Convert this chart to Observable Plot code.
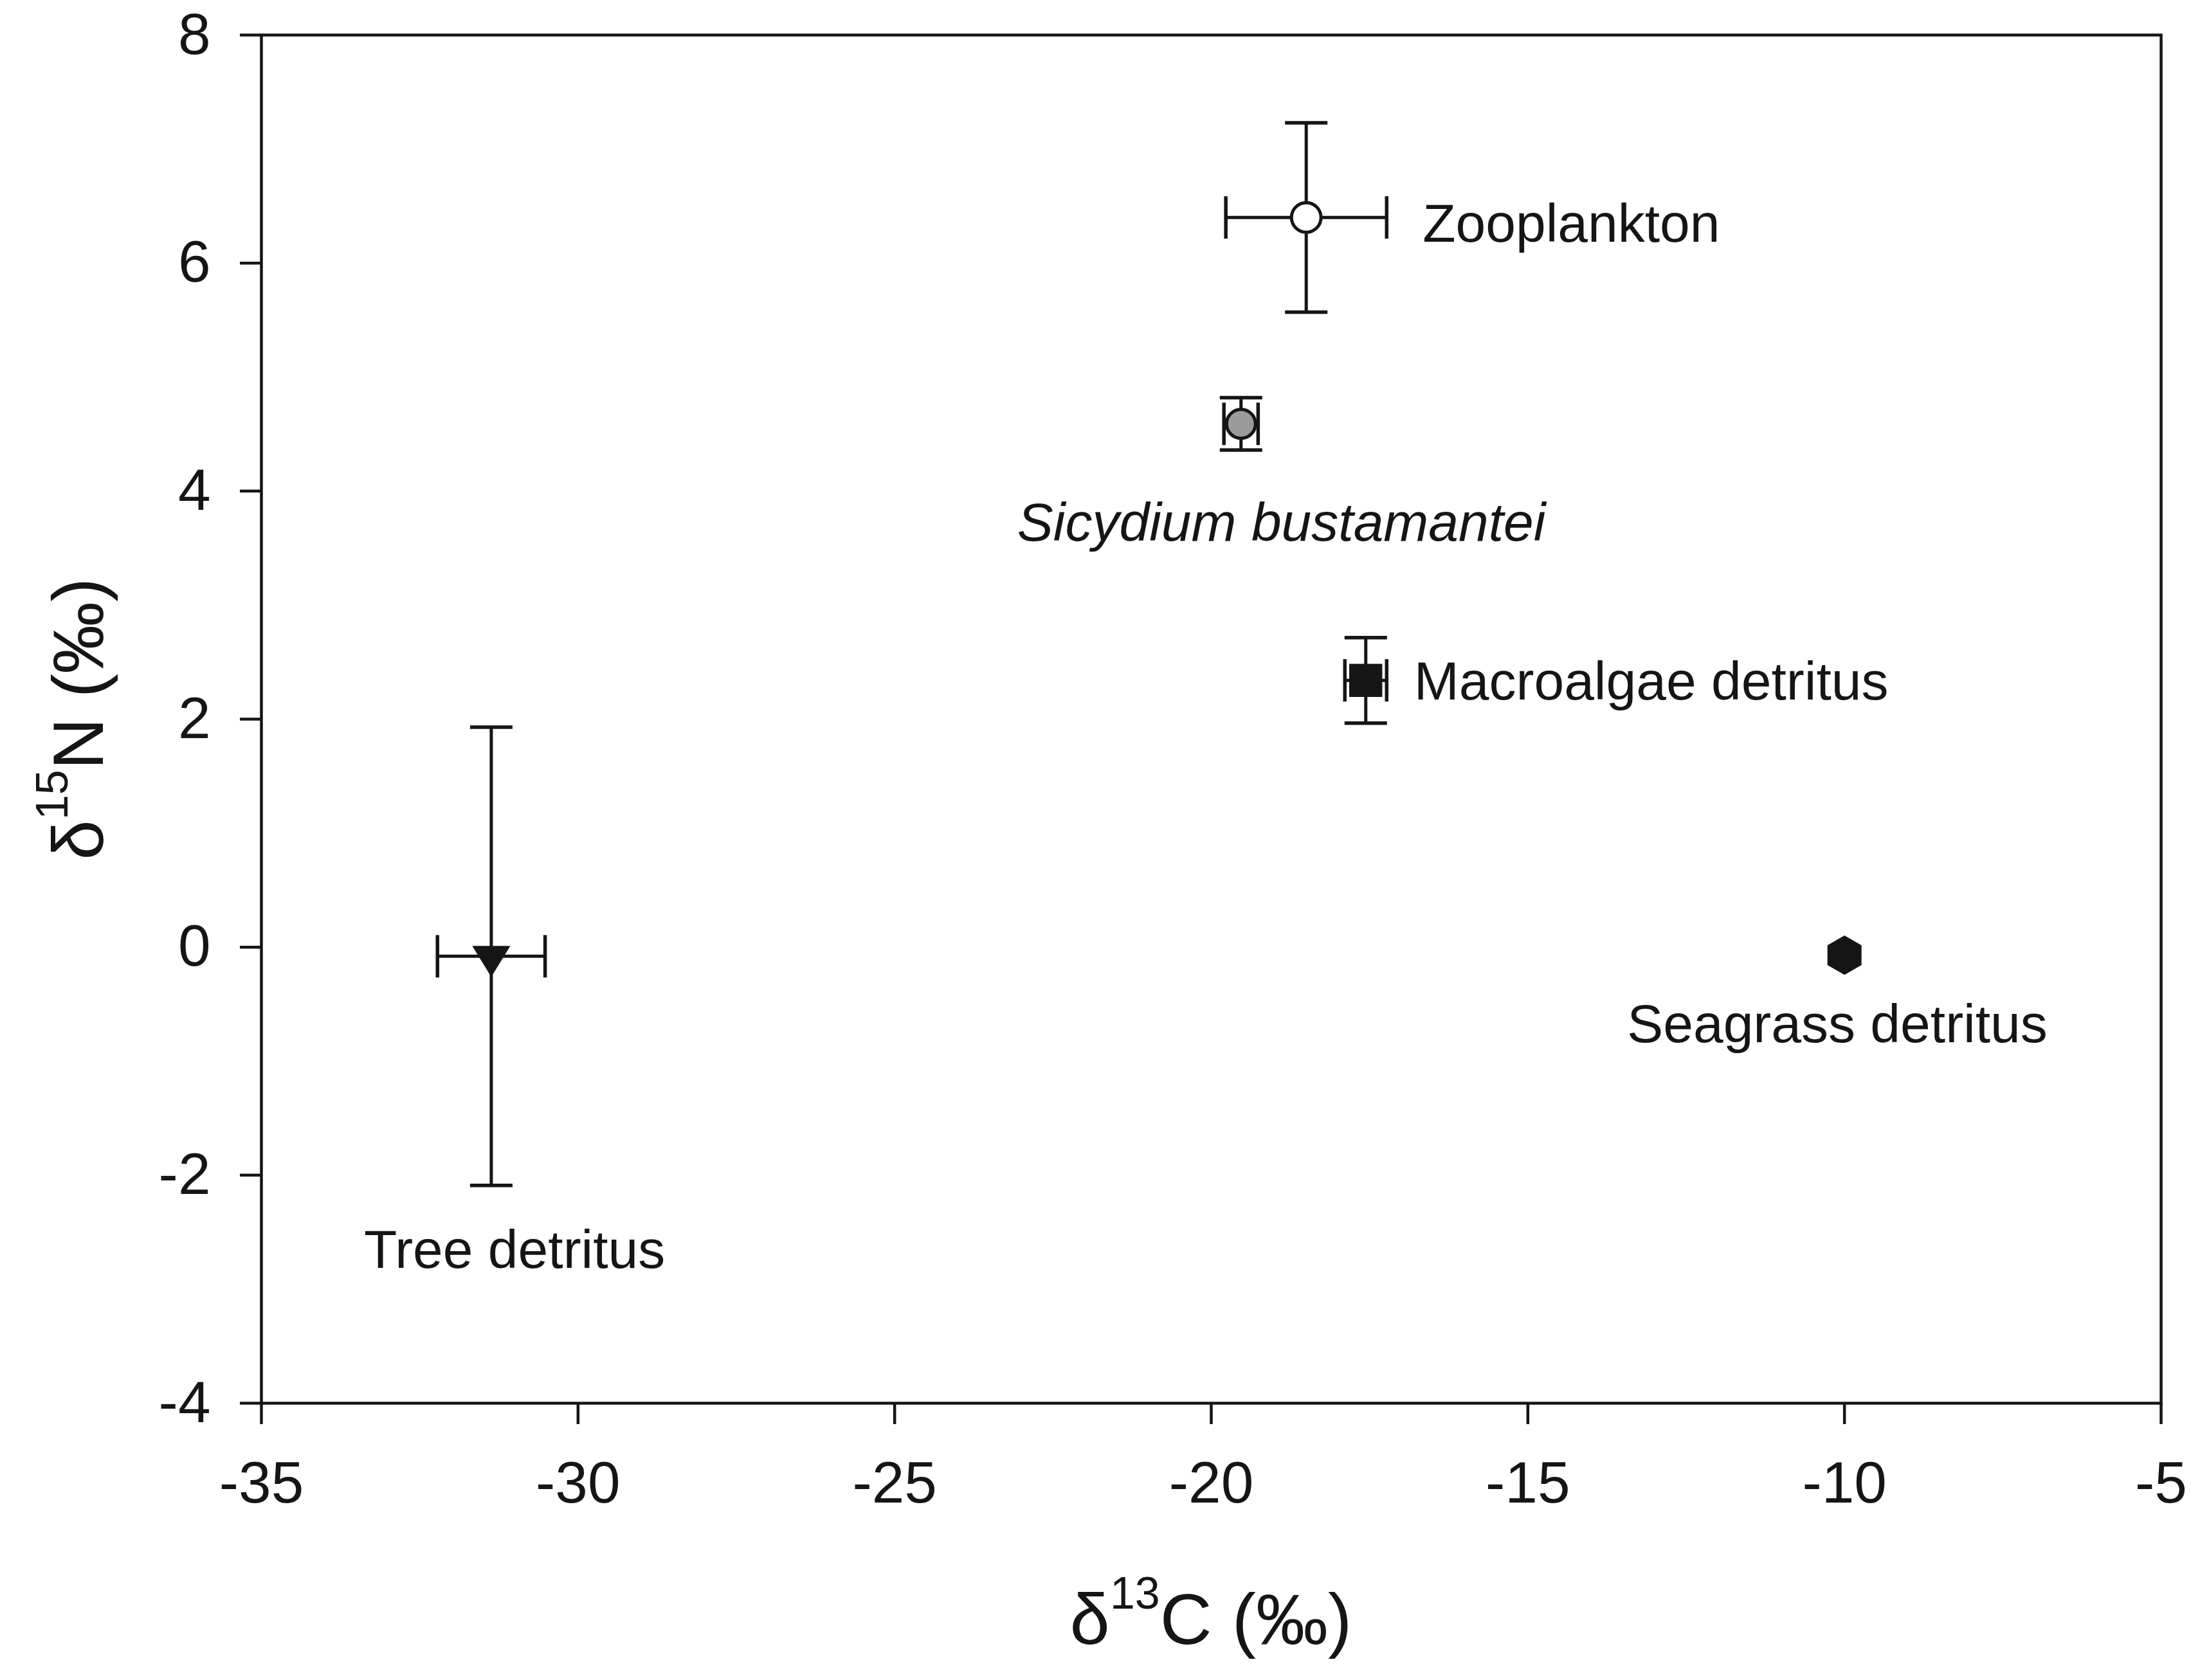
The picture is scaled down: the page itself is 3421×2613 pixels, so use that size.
<!DOCTYPE html>
<html>
<head>
<meta charset="utf-8">
<script src="https://cdn.jsdelivr.net/npm/d3@7"></script>
<script src="https://cdn.jsdelivr.net/npm/@observablehq/plot@0.6"></script>
<style>
  html, body { margin: 0; padding: 0; background: #fff; overflow: hidden; }
  #chart svg { display: block; }
</style>
</head>
<body>
<div id="chart"></div>
<script>
// ---- data ----
const sources = ["Zooplankton", "Sicydium bustamantei", "Macroalgae detritus", "Seagrass detritus", "Tree detritus"];
const d13C    = [-18.50, -19.53, -17.56, -10.00, -31.37];
const d13Csd  = [1.27, 0.27, 0.33, 0, 0.85];
const d15N    = [6.40, 4.59, 2.34, -0.07, -0.08];
const d15Nsd  = [0.83, 0.23, 0.375, 0, 2.01];
const xTicks  = [-35, -30, -25, -20, -15, -10, -5];
const yTicks  = [-4, -2, 0, 2, 4, 6, 8];

// ---- styling ----
const INK = "#151515";
const FONT = "'Liberation Sans', Arial, Helvetica, sans-serif";

const downTriangle = {
  draw(ctx, size) {
    const r = Math.sqrt(size / Math.PI);
    const w = 2.15 * r, h = 1.75 * r;
    ctx.moveTo(-w / 2, -h / 3);
    ctx.lineTo(w / 2, -h / 3);
    ctx.lineTo(0, 2 * h / 3);
    ctx.closePath();
  }
};
const hCap = { draw(ctx, size) { const r = Math.sqrt(size / Math.PI); ctx.moveTo(-r, 0); ctx.lineTo(r, 0); } };
const vCap = { draw(ctx, size) { const r = Math.sqrt(size / Math.PI); ctx.moveTo(0, -r); ctx.lineTo(0, r); } };

const markerStyle = {
  "Zooplankton":          { symbol: "circle", r: 23, fill: "#ffffff", stroke: INK, strokeWidth: 5 },
  "Sicydium bustamantei": { symbol: "circle", r: 22.5, fill: "#9b9b9b", stroke: INK, strokeWidth: 5 },
  "Macroalgae detritus":  { symbol: "square", r: 29, fill: INK },
  "Seagrass detritus":    { symbol: "hexagon", r: 26.5, fill: INK },
  "Tree detritus":        { symbol: downTriangle, r: 27.5, fill: INK }
};
const labelStyle = {
  "Zooplankton":          { dx: 181,  dy: 11,  fontStyle: "normal" },
  "Sicydium bustamantei": { dx: -348, dy: 155, fontStyle: "italic" },
  "Macroalgae detritus":  { dx: 75,   dy: 3,   fontStyle: "normal" },
  "Seagrass detritus":    { dx: -338, dy: 109, fontStyle: "normal" },
  "Tree detritus":        { dx: -198, dy: 458, fontStyle: "normal" }
};

const rows = sources.map((name, i) => ({ name, x: d13C[i], xsd: d13Csd[i], y: d15N[i], ysd: d15Nsd[i] }));
const yErr = rows.filter(d => d.ysd > 0);
const xErr = rows.filter(d => d.xsd > 0);

const marks = [
  Plot.frame({ stroke: INK, strokeWidth: 4.5 }),
  Plot.axisX(xTicks, { anchor: "bottom", tickSize: 33, tickPadding: 57, tickFormat: d => String(d),
    fontSize: 91, strokeWidth: 4.5, stroke: INK, fill: INK, label: null }),
  Plot.axisY(yTicks, { anchor: "left", tickSize: 33, tickPadding: 46, tickFormat: d => String(d),
    fontSize: 91, strokeWidth: 4.5, stroke: INK, fill: INK, label: null }),
  // error bars
  Plot.ruleX(yErr, { x: "x", y1: d => d.y - d.ysd, y2: d => d.y + d.ysd, stroke: INK, strokeWidth: 5 }),
  Plot.ruleY(xErr, { y: "y", x1: d => d.x - d.xsd, x2: d => d.x + d.xsd, stroke: INK, strokeWidth: 5 }),
  Plot.dot(yErr, { x: "x", y: d => d.y + d.ysd, symbol: hCap, r: 33, fill: "none", stroke: INK, strokeWidth: 5.5 }),
  Plot.dot(yErr, { x: "x", y: d => d.y - d.ysd, symbol: hCap, r: 33, fill: "none", stroke: INK, strokeWidth: 5.5 }),
  Plot.dot(xErr, { x: d => d.x + d.xsd, y: "y", symbol: vCap, r: 33, fill: "none", stroke: INK, strokeWidth: 5.5 }),
  Plot.dot(xErr, { x: d => d.x - d.xsd, y: "y", symbol: vCap, r: 33, fill: "none", stroke: INK, strokeWidth: 5.5 })
];

for (const name of sources) {
  const sub = rows.filter(d => d.name === name);
  marks.push(Plot.dot(sub, { x: "x", y: "y", ...markerStyle[name] }));
}
for (const name of sources) {
  const sub = rows.filter(d => d.name === name);
  const ls = labelStyle[name];
  marks.push(Plot.text(sub, { x: "x", y: "y", text: "name", textAnchor: "start", lineAnchor: "middle",
    dx: ls.dx, dy: ls.dy, fontSize: 84, fontStyle: ls.fontStyle, fill: INK }));
}

const chart = Plot.plot({
  width: 3421,
  height: 2613,
  marginLeft: 406,
  marginRight: 61,
  marginTop: 54,
  marginBottom: 431,
  x: { domain: [-35, -5] },
  y: { domain: [-4, 8] },
  style: { fontFamily: FONT, background: "#ffffff", color: INK },
  marks
});

const svg = d3.select(chart);

// x-axis title: δ13C (‰)
const xt = svg.append("text")
  .attr("x", (406 + 3360) / 2).attr("y", 2557)
  .attr("text-anchor", "middle")
  .attr("font-family", FONT).attr("font-size", 112).attr("fill", INK);
xt.append("tspan").text("δ");
xt.append("tspan").attr("font-size", 70).attr("dy", -55).text("13");
xt.append("tspan").attr("dy", 55).text("C (‰)");

// y-axis title: δ15N (‰)
const yt = svg.append("text")
  .attr("transform", `translate(160, ${(54 + 2182) / 2}) rotate(-90)`)
  .attr("text-anchor", "middle")
  .attr("font-family", FONT).attr("font-size", 112).attr("fill", INK);
yt.append("tspan").text("δ");
yt.append("tspan").attr("font-size", 70).attr("dy", -55).text("15");
yt.append("tspan").attr("dy", 55).text("N (‰)");

document.getElementById("chart").appendChild(chart);
</script>
</body>
</html>
